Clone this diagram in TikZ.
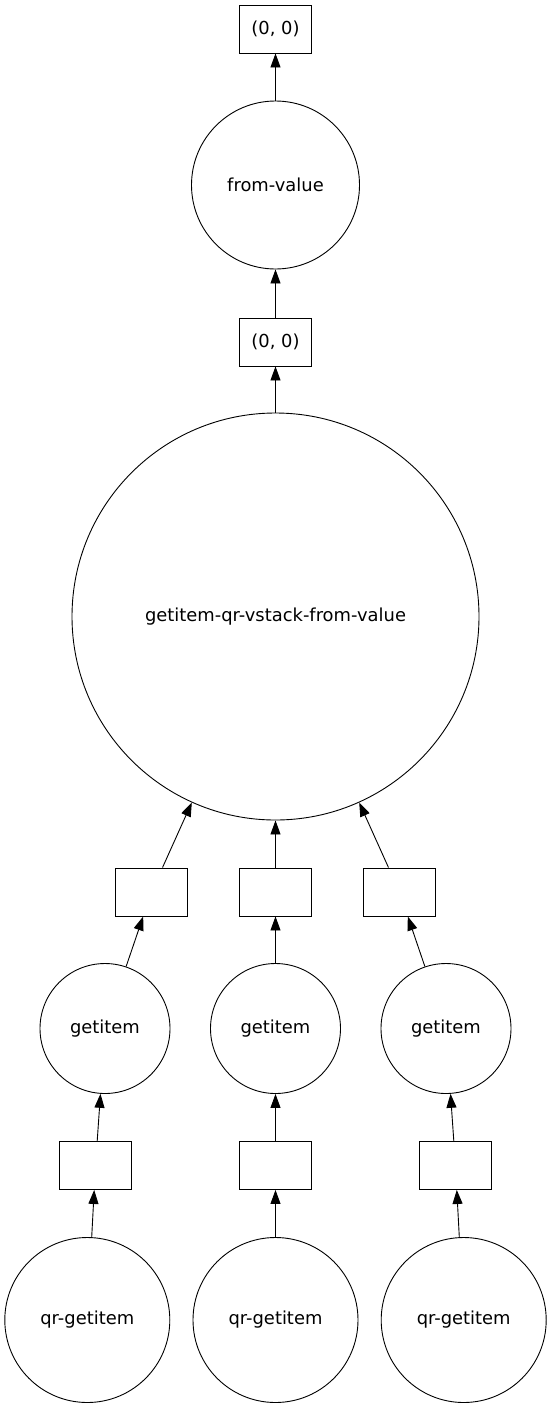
\documentclass[tikz,border=0pt]{standalone}
\usepackage{fontspec}
\setmainfont{DejaVu Sans}
\usetikzlibrary{arrows.meta}
\tikzset{
  chunk/.style={draw, rectangle, minimum width=72pt, minimum height=48pt, inner sep=0pt},
  task/.style={draw, circle, inner sep=0pt},
  dep/.style={-{Triangle[length=14pt,width=10pt]}}
}
\begin{document}
\begin{tikzpicture}[x=1pt,y=-1pt,line width=0.9pt,font=\fontsize{17.9}{21}\selectfont]
  \useasboundingbox (0,0) rectangle (551,1408);
  \node[chunk] (out) at (275.5,29) {(0, 0)};
  \node[task,minimum size=168pt] (fromvalue) at (275.5,185) {from-value};
  \node[chunk] (mid) at (275.5,342) {(0, 0)};
  \node[task,minimum size=407pt] (vstack) at (275.5,616.5) {getitem-qr-vstack-from-value};

  \node[chunk] (boxa) at (151.5,892) {};
  \node[chunk] (boxb) at (275.5,892) {};
  \node[chunk] (boxc) at (399.5,892) {};

  \node[task,minimum size=130pt] (geta) at (105,1028.5) {getitem};
  \node[task,minimum size=130pt] (getb) at (275.5,1028.5) {getitem};
  \node[task,minimum size=130pt] (getc) at (446,1028.5) {getitem};

  \node[chunk] (ina) at (95.5,1165.5) {};
  \node[chunk] (inb) at (275.5,1165.5) {};
  \node[chunk] (inc) at (455.5,1165.5) {};

  \node[task,minimum size=165pt] (qra) at (87.3,1320) {qr-getitem};
  \node[task,minimum size=165pt] (qrb) at (275.5,1320) {qr-getitem};
  \node[task,minimum size=165pt] (qrc) at (463.7,1320) {qr-getitem};

  \draw[dep] (fromvalue) -- (out);
  \draw[dep] (mid) -- (fromvalue);
  \draw[dep] (vstack) -- (mid);
  \draw[dep] (boxa) -- (vstack);
  \draw[dep] (boxb) -- (vstack);
  \draw[dep] (boxc) -- (vstack);
  \draw[dep] (geta) -- (boxa);
  \draw[dep] (getb) -- (boxb);
  \draw[dep] (getc) -- (boxc);
  \draw[dep] (ina) -- (geta);
  \draw[dep] (inb) -- (getb);
  \draw[dep] (inc) -- (getc);
  \draw[dep] (qra) -- (ina);
  \draw[dep] (qrb) -- (inb);
  \draw[dep] (qrc) -- (inc);
\end{tikzpicture}
\end{document}
